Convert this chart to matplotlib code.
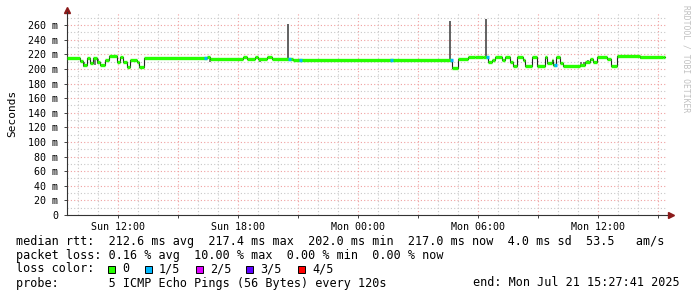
import numpy as np
import matplotlib
matplotlib.use("Agg")
import matplotlib.pyplot as plt
import matplotlib.dates as mdates
from matplotlib.patches import Rectangle
from matplotlib.ticker import MultipleLocator, FuncFormatter

# time window: 30 hours ending at the probe end time
end_time = np.datetime64("2025-07-21T15:27:41")
span_hours = 30

# median rtt in ms, as steps: (hours since start, value)
median_hours = [0.00, 0.65, 0.80, 1.00, 1.15, 1.30, 1.50, 1.65, 1.90, 2.10,
                2.50, 2.65, 2.80, 3.00, 3.15, 3.50, 3.58, 3.85, 7.00, 7.15,
                8.80, 9.00, 9.40, 9.55, 10.00, 10.25, 11.30, 19.25, 19.55, 20.05,
                20.40, 20.80, 20.95, 21.05, 21.25, 21.40, 21.75, 21.90, 22.15, 22.30,
                22.50, 22.80, 22.90, 23.25, 23.50, 23.90, 24.00, 24.25, 24.30, 24.45,
                24.65, 24.80, 25.65, 25.90, 26.15, 26.30, 26.50, 27.00, 27.20, 27.50,
                28.65, 29.80]
median_ms = [214.5, 210.5, 205, 215, 208, 215, 210, 205, 212, 217.5,
             210, 216.5, 210, 203, 212, 210, 202, 214.5, 216, 214,
             216, 214, 216, 214, 216.5, 214, 212.5, 201.5, 213.5, 216.5,
             216, 216.5, 217, 209, 212, 216, 212, 216, 210, 204,
             216, 212, 204, 216.5, 204, 216, 208, 212, 205, 216.5,
             208, 204, 205, 209, 213, 210, 216.5, 214, 204, 217.5,
             216, 217]
median_end = 29.9

# intervals with 1/5 packet loss
loss_hours = [6.85, 11.05, 11.6, 16.15, 19.15, 20.95, 24.35]

# smoke: single long rtt outliers
spike_hours = [11.05, 19.15, 20.95]
spike_top = [262, 265.5, 268]
spike_base = [214, 213, 217]

# smoke: small spread around the median
smoke_hours = [0.85, 1.40, 1.55, 7.15, 9.65, 25.70, 25.85, 26.05, 28.70]
smoke_lo = [203, 205, 207, 209, 209, 205, 206, 208, 213]
smoke_hi = [210, 214, 213, 214, 214, 209, 210, 212, 216]

loss_labels = ["0", "1/5", "2/5", "3/5", "4/5"]
loss_colors = ["#26ff00", "#00b8ff", "#dd00ff", "#5e00ff", "#ff0000"]

rtt_line = "median rtt:  212.6 ms avg  217.4 ms max  202.0 ms min  217.0 ms now  4.0 ms sd  53.5   am/s"
loss_line = "packet loss: 0.16 % avg  10.00 % max  0.00 % min  0.00 % now"
probe_line = "probe:       5 ICMP Echo Pings (56 Bytes) every 120s"
end_line = "end: Mon Jul 21 15:27:41 2025"


def to_dates(hours):
    start = end_time - np.timedelta64(span_hours * 3600, "s")
    secs = (np.asarray(hours, dtype=float) * 3600).round().astype("timedelta64[s]")
    return mdates.date2num(start + secs)


mono = "DejaVu Sans Mono"
plt.rcParams["font.family"] = mono

fig = plt.figure(figsize=(6.97, 2.97), dpi=100, facecolor="white")
ax = fig.add_axes([67 / 697, 82 / 297, 600 / 697, 203 / 297])

ax.set_xlim(to_dates([0])[0], to_dates([span_hours])[0])
ax.set_ylim(0, 278)

# smoke
ax.vlines(to_dates(smoke_hours), smoke_lo, smoke_hi, color="#777777", lw=1.4, zorder=2)
ax.vlines(to_dates(spike_hours), spike_base, spike_top, color="#555555", lw=1.3, zorder=2)

# median: black step connections, green plateaus
xs = to_dates(median_hours + [median_end])
ys = median_ms + [median_ms[-1]]
ax.step(xs, ys, where="post", color="#222222", lw=0.8, zorder=3)
ax.hlines(median_ms, xs[:-1], xs[1:], color=loss_colors[0], lw=2.4, zorder=4)

# loss-coloured bits of the median
for h in loss_hours:
    idx = np.searchsorted(median_hours, h, side="right") - 1
    lx = to_dates([h, h + 0.15])
    ax.hlines(median_ms[idx], lx[0], lx[1], color=loss_colors[1], lw=2.4, zorder=5)

# grid
ax.xaxis.set_major_locator(mdates.HourLocator(byhour=range(0, 24, 3)))
ax.xaxis.set_minor_locator(mdates.HourLocator())


def fmt_time(x, pos):
    d = mdates.num2date(x)
    return d.strftime("%a %H:%M") if d.hour % 6 == 0 else ""


ax.xaxis.set_major_formatter(FuncFormatter(fmt_time))
ax.yaxis.set_major_locator(MultipleLocator(20))
ax.yaxis.set_minor_locator(MultipleLocator(10))
ax.yaxis.set_major_formatter(FuncFormatter(lambda v, p: "0" if v == 0 else f"{int(v)} m"))

ax.set_axisbelow(True)
ax.grid(which="minor", color="#c8c8c8", lw=0.8, linestyle=(0, (1, 2)))
ax.grid(which="major", color="#f0a0a0", lw=0.8, linestyle=(0, (1, 2)))

ax.tick_params(axis="both", which="major", labelsize=7.2, length=2.5, width=0.7,
               color="#444444", pad=2.5)
ax.tick_params(axis="y", pad=4)
ax.tick_params(axis="both", which="minor", length=0)

for s in ("top", "right"):
    ax.spines[s].set_visible(False)
for s in ("left", "bottom"):
    ax.spines[s].set_color("#333333")
    ax.spines[s].set_linewidth(0.8)

# axis arrows
ax.plot([1.006], [0], marker=">", color="#8b1a1a", markersize=4, transform=ax.transAxes, clip_on=False)
ax.plot([0], [1.01], marker="^", color="#8b1a1a", markersize=4, transform=ax.transAxes, clip_on=False)

ax.set_ylabel("Seconds", fontsize=8)
ax.yaxis.set_label_coords(-50 / 600, 0.5)

fig.text(686 / 697, 1 - 5 / 297, "RRDTOOL / TOBI OETIKER", rotation=-90, fontsize=5.8,
         color="#c0c0c0", ha="center", va="top")


def ftext(xp, yp, s, ha="left"):
    fig.text(xp / 697, 1 - yp / 297, s, fontsize=8.5, ha=ha, va="center")


ftext(16, 241, rtt_line)
ftext(16, 255, loss_line)
ftext(16, 269, "loss color:")
box_x = [108, 145, 196, 246, 298]
for bx, lab, col in zip(box_x, loss_labels, loss_colors):
    fig.patches.append(Rectangle((bx / 697, 1 - 273 / 297), 7 / 697, 7 / 297,
                                 transform=fig.transFigure, facecolor=col,
                                 edgecolor="black", lw=0.7))
    ftext(bx + 14, 269, lab)
ftext(16, 283, probe_line)
ftext(680, 283, end_line, ha="right")

fig.savefig("out.png", dpi=100, facecolor="white")
